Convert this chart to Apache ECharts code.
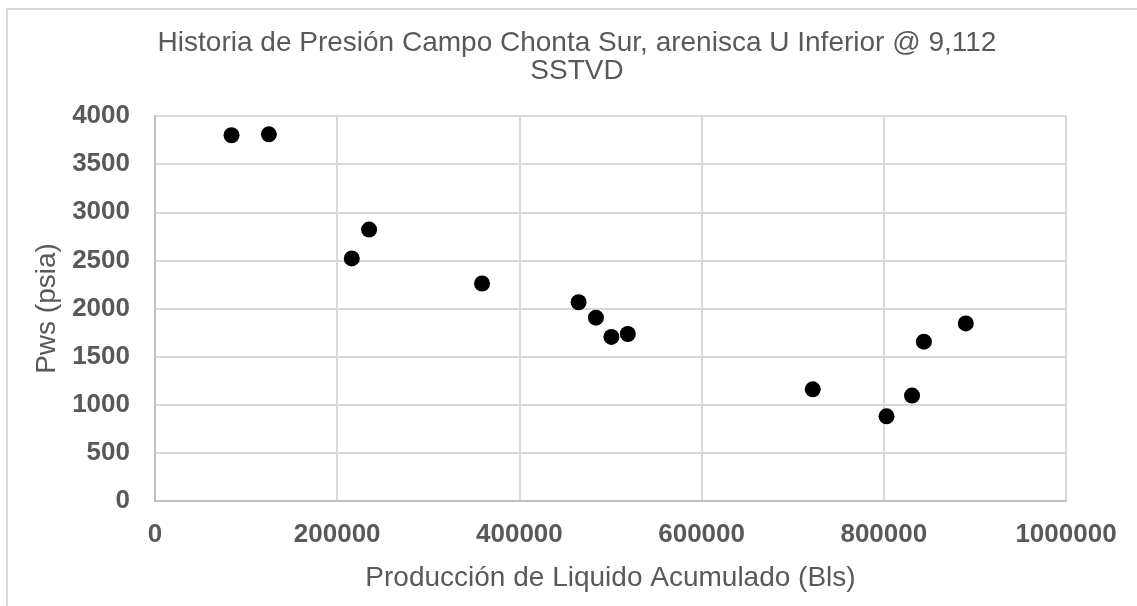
<!DOCTYPE html>
<html>
<head>
<meta charset="utf-8">
<script src="https://cdn.jsdelivr.net/npm/echarts@6/dist/echarts.min.js"></script>
<style>
  html, body { margin: 0; padding: 0; background: #fff; }
  #main { width: 1137px; height: 606px; }
</style>
</head>
<body>
<div id="main"></div>
<script>
// data
let liquidoAcum = [84000, 125000, 216000, 235000, 359000, 465000, 484000, 501000, 519000, 722000, 803000, 831000, 844000, 890000];
let pws = [3800, 3810, 2520, 2820, 2260, 2065, 1905, 1705, 1735, 1160, 880, 1095, 1655, 1845];
let points = [];
for (let i = 0; i < liquidoAcum.length; i++) {
    points.push([liquidoAcum[i], pws[i]]);
}

let gray = '#595959';
let font = 'Liberation Sans, Arial, sans-serif';

// plain numbers, no thousands separator
let plain = function (v) { return String(v); };

var myChart = echarts.init(document.getElementById('main'));
var option = {
    backgroundColor: '#fff',
    animation: false,
    title: {
        text: 'Historia de Presión Campo Chonta Sur, arenisca U Inferior @ 9,112\nSSTVD',
        left: 572,
        textAlign: 'center',
        top: 24,
        textStyle: {
            color: gray,
            fontFamily: font,
            fontSize: 28,
            fontWeight: 'normal',
            lineHeight: 28
        }
    },
    graphic: [{
        type: 'rect',
        shape: { x: 7, y: 9, width: 1200, height: 700 },
        style: { fill: 'none', stroke: '#d9d9d9', lineWidth: 2 },
        silent: true
    }],
    grid: {
        left: 155,
        right: 71,
        top: 116,
        bottom: 105
    },
    xAxis: {
        type: 'value',
        min: 0,
        max: 1000000,
        interval: 200000,
        name: 'Producción de Liquido Acumulado (Bls)',
        nameLocation: 'middle',
        nameGap: 63,
        nameTextStyle: { color: gray, fontFamily: font, fontSize: 28 },
        axisLine: { show: true, lineStyle: { color: '#bfbfbf', width: 2 } },
        axisTick: { show: false },
        splitLine: { show: true, lineStyle: { color: '#d9d9d9', width: 2 } },
        axisLabel: { color: gray, fontFamily: font, fontSize: 26, fontWeight: 'bold', margin: 21, formatter: plain }
    },
    yAxis: {
        type: 'value',
        min: 0,
        max: 4000,
        interval: 500,
        name: 'Pws (psia)',
        nameLocation: 'middle',
        nameGap: 91,
        nameTextStyle: { color: gray, fontFamily: font, fontSize: 28 },
        axisLine: { show: true, lineStyle: { color: '#bfbfbf', width: 2 } },
        axisTick: { show: false },
        splitLine: { show: true, lineStyle: { color: '#d9d9d9', width: 2 } },
        axisLabel: { color: gray, fontFamily: font, fontSize: 26, fontWeight: 'bold', margin: 25, formatter: plain }
    },
    series: [{
        type: 'scatter',
        data: points,
        symbol: 'circle',
        symbolSize: 16,
        itemStyle: { color: '#000', opacity: 1 }
    }]
};
myChart.setOption(option);
</script>
</body>
</html>
